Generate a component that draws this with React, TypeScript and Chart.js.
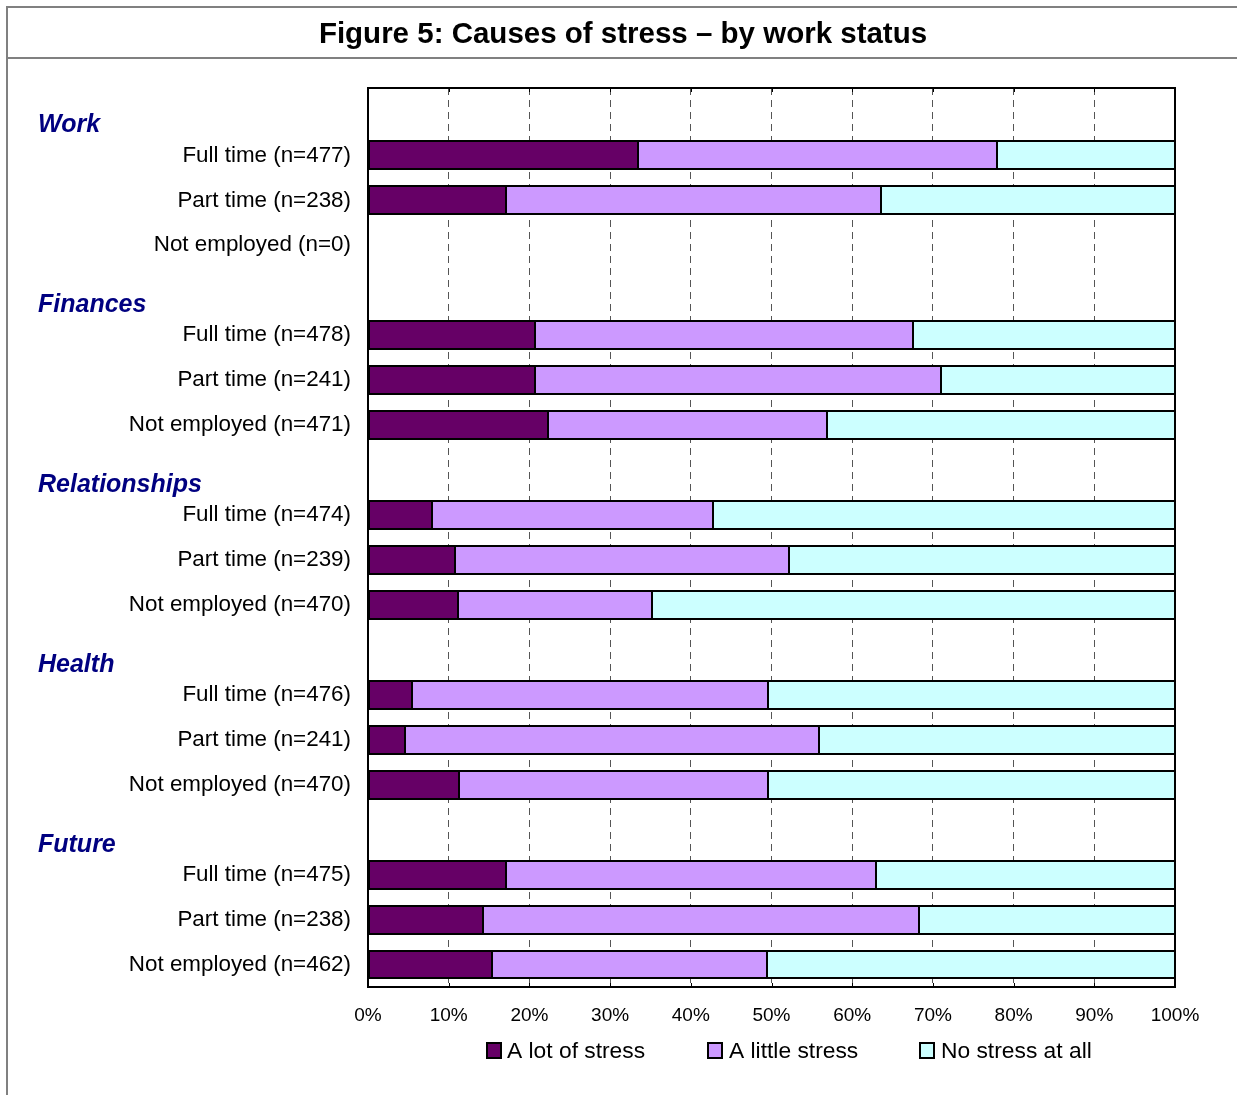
import React, { useEffect, useRef } from "react";
import { Chart, registerables } from "chart.js";

Chart.register(...registerables);

const FONT = "'Liberation Sans', Arial, Helvetica, sans-serif";

// Row labels (empty rows carry the group headings)
const categories = [
  "", "Full time (n=477)", "Part time (n=238)", "Not employed (n=0)",
  "", "Full time (n=478)", "Part time (n=241)", "Not employed (n=471)",
  "", "Full time (n=474)", "Part time (n=239)", "Not employed (n=470)",
  "", "Full time (n=476)", "Part time (n=241)", "Not employed (n=470)",
  "", "Full time (n=475)", "Part time (n=238)", "Not employed (n=462)",
];

const groupHeadings = ["Work", "Finances", "Relationships", "Health", "Future"];
const groupHeadingRows = [0, 4, 8, 12, 16];

const seriesNames = ["A lot of stress", "A little stress", "No stress at all"];
const seriesColors = ["#660066", "#CC99FF", "#CCFFFF"];

const aLotOfStress = [
  null, 33.5, 17.1, null,
  null, 20.7, 20.7, 22.3,
  null, 7.9, 10.8, 11.2,
  null, 5.5, 4.6, 11.3,
  null, 17.1, 14.3, 15.4,
];
const aLittleStress = [
  null, 44.4, 46.5, null,
  null, 46.8, 50.3, 34.6,
  null, 34.9, 41.4, 24.0,
  null, 44.1, 51.3, 38.3,
  null, 45.9, 54.0, 34.0,
];
const noStressAtAll = [
  null, 22.1, 36.4, null,
  null, 32.5, 29.0, 43.1,
  null, 57.2, 47.8, 64.8,
  null, 50.4, 44.1, 50.4,
  null, 37.0, 31.7, 50.6,
];

const xTicks = [0, 10, 20, 30, 40, 50, 60, 70, 80, 90, 100];

const legendItems = [
  { x: 487, textX: 507 },
  { x: 708, textX: 729 },
  { x: 920, textX: 941 },
];

const W = 1237;
const H = 1095;

// Crisp 2px black outlines around every bar segment
const barOutlinePlugin = {
  id: "barOutline",
  afterDatasetsDraw(chart: any) {
    const ctx = chart.ctx as CanvasRenderingContext2D;
    ctx.save();
    ctx.strokeStyle = "#000";
    ctx.lineWidth = 2;
    chart.data.datasets.forEach((_ds: any, di: number) => {
      const meta = chart.getDatasetMeta(di);
      meta.data.forEach((el: any, idx: number) => {
        const v = chart.data.datasets[di].data[idx];
        if (v === null || v === undefined) return;
        const props = el.getProps(["x", "y", "base", "height"], true);
        const x0 = Math.round(Math.min(props.x, props.base));
        const x1 = Math.round(Math.max(props.x, props.base));
        const y0 = Math.round(props.y - props.height / 2);
        const y1 = Math.round(props.y + props.height / 2);
        ctx.strokeRect(x0, y0, x1 - x0, y1 - y0);
      });
    });
    ctx.restore();
  },
};

const decorPlugin = {
  id: "decor",
  afterDraw(chart: any) {
    const ctx = chart.ctx as CanvasRenderingContext2D;
    const { left, right, top, bottom } = chart.chartArea;
    const xs = chart.scales.x;
    const ys = chart.scales.y;
    ctx.save();

    // outer frame and title band
    ctx.strokeStyle = "#808080";
    ctx.lineWidth = 2;
    ctx.beginPath();
    ctx.moveTo(W + 5, 7);
    ctx.lineTo(7, 7);
    ctx.lineTo(7, H + 5);
    ctx.moveTo(7, 58);
    ctx.lineTo(W + 5, 58);
    ctx.stroke();

    ctx.fillStyle = "#000";
    ctx.font = `bold 29.5px ${FONT}`;
    ctx.textAlign = "center";
    ctx.textBaseline = "middle";
    ctx.fillText("Figure 5: Causes of stress \u2013 by work status", 623, 35);

    // plot border
    ctx.strokeStyle = "#000";
    ctx.lineWidth = 2;
    ctx.strokeRect(Math.round(left), Math.round(top), Math.round(right - left), Math.round(bottom - top));

    // tick marks inside top and bottom edges
    ctx.beginPath();
    for (const t of xTicks) {
      const px = Math.round(xs.getPixelForValue(t)) + 0.5;
      ctx.moveTo(px, top);
      ctx.lineTo(px, top + 4);
      ctx.moveTo(px, bottom);
      ctx.lineTo(px, bottom - 4);
    }
    ctx.lineWidth = 1;
    ctx.stroke();

    // group headings
    ctx.fillStyle = "#000080";
    ctx.font = `italic bold 25px ${FONT}`;
    ctx.textAlign = "left";
    ctx.textBaseline = "middle";
    groupHeadings.forEach((g, i) => {
      const py = ys.getPixelForValue(groupHeadingRows[i]);
      ctx.fillText(g, 38, py + 15);
    });

    // legend
    ctx.font = `22.8px ${FONT}`;
    ctx.textBaseline = "middle";
    legendItems.forEach((it, i) => {
      ctx.fillStyle = seriesColors[i];
      ctx.fillRect(it.x, 1043, 14, 15);
      ctx.strokeStyle = "#000";
      ctx.lineWidth = 2;
      ctx.strokeRect(it.x, 1043, 14, 15);
      ctx.fillStyle = "#000";
      ctx.fillText(seriesNames[i], it.textX, 1052);
    });

    ctx.restore();
  },
};

export default function App() {
  const ref = useRef<HTMLCanvasElement | null>(null);

  useEffect(() => {
    if (!ref.current) return;
    const seriesData = [aLotOfStress, aLittleStress, noStressAtAll];
    const chart = new Chart(ref.current, {
      type: "bar",
      data: {
        labels: categories,
        datasets: seriesNames.map((name, i) => ({
          label: name,
          data: seriesData[i],
          backgroundColor: seriesColors[i],
          borderWidth: 0,
          categoryPercentage: 1,
          barPercentage: 0.62,
        })),
      },
      options: {
        indexAxis: "y",
        responsive: false,
        animation: false,
        devicePixelRatio: 1,
        layout: { padding: { top: 88, right: 62, bottom: 68, left: 0 } },
        plugins: {
          legend: { display: false },
          tooltip: { enabled: false },
          title: { display: false },
        },
        scales: {
          x: {
            stacked: true,
            min: 0,
            max: 100,
            afterFit: (scale: any) => {
              scale.height = 40;
            },
            afterBuildTicks: (scale: any) => {
              scale.ticks = xTicks.map((v) => ({ value: v }));
            },
            ticks: {
              callback: (v: any) => `${v}%`,
              color: "#000",
              font: { family: FONT, size: 19 },
              padding: 17,
              maxRotation: 0,
            },
            grid: {
              color: "#555",
              lineWidth: 1,
              drawTicks: false,
            },
            border: { display: false, dash: [7, 5] },
          },
          y: {
            stacked: true,
            afterFit: (scale: any) => {
              scale.width = 368;
            },
            ticks: {
              autoSkip: false,
              color: "#000",
              font: { family: FONT, size: 22.4 },
              padding: 17,
            },
            grid: { display: false, drawTicks: false },
            border: { display: false },
          },
        },
      },
      plugins: [barOutlinePlugin, decorPlugin],
    } as any);
    return () => chart.destroy();
  }, []);

  return (
    <div style={{ position: "absolute", left: 0, top: 0, width: W, height: H, background: "#fff" }}>
      <canvas ref={ref} width={W} height={H} style={{ width: W, height: H, display: "block" }} />
    </div>
  );
}
